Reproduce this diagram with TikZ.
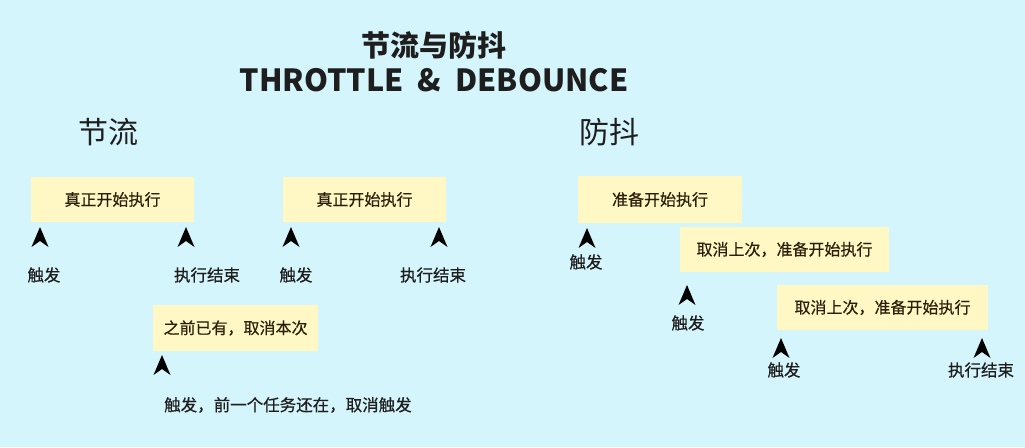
\documentclass[tikz,border=0pt]{standalone}
\usepackage{fontspec}
\setmainfont{Noto Sans CJK SC}
\newfontfamily\medfont{Noto Sans CJK SC}[FakeBold=0.5]
\definecolor{bgc}{RGB}{213,245,252}
\definecolor{boxc}{RGB}{255,248,196}
\definecolor{txtc}{RGB}{30,30,30}
\definecolor{boxtxt}{RGB}{45,30,10}
\begin{document}
\begin{tikzpicture}[x=1pt,y=-1pt,
  ybox/.style={fill=boxc,draw=none,inner sep=0pt,text=boxtxt,font=\medfont\fontsize{16}{18}\selectfont},
  lbl/.style={inner sep=0pt,text=txtc,font=\medfont\fontsize{16.5}{18}\selectfont},
  heading/.style={inner sep=0pt,text=txtc,font=\fontsize{30}{34}\selectfont},
  arrowhd/.pic={\fill[black] (0,0) -- (-8.5,20) -- (0,14) -- (8.5,20) -- cycle;}]
\fill[bgc] (0,0) rectangle (1025,447);
\useasboundingbox (0,0) rectangle (1025,447);
% titles
\node[heading,font=\fontsize{29}{32}\selectfont\bfseries] (title) at (434,45) {节流与防抖};
\node[heading,font=\fontsize{30.5}{34}\selectfont\bfseries] (subtitle) at (434,80) {THROTTLE\hspace{14pt}\&\hspace{14pt}DEBOUNCE};
\node[heading] (thr) at (108,132) {节流};
\node[heading] (deb) at (609,132) {防抖};
% throttle
\node[ybox,minimum width=163,minimum height=45] (t1) at (112.5,199.5) {真正开始执行};
\node[ybox,minimum width=163,minimum height=45] (t2) at (364.5,199.5) {真正开始执行};
\node[ybox,minimum width=165,minimum height=46] (t3) at (235.5,328) {之前已有，取消本次};
\pic (ta1) at (40,227) {arrowhd};
\pic (ta2) at (186,227) {arrowhd};
\pic (ta3) at (291,227) {arrowhd};
\pic (ta4) at (439,227) {arrowhd};
\pic (ta5) at (162,355) {arrowhd};
\node[lbl] (tl1) at (44,275) {触发};
\node[lbl] (tl2) at (207,275) {执行结束};
\node[lbl] (tl3) at (296,275) {触发};
\node[lbl] (tl4) at (433,275) {执行结束};
\node[lbl,anchor=west] (tl5) at (164,405) {触发，前一个任务还在，取消触发};
% debounce
\node[ybox,minimum width=164,minimum height=47] (d1) at (660,199.5) {准备开始执行};
\node[ybox,minimum width=209,minimum height=45] (d2) at (784.5,249.5) {取消上次，准备开始执行};
\node[ybox,minimum width=211,minimum height=45] (d3) at (882.5,307.5) {取消上次，准备开始执行};
\pic (da1) at (587,228) {arrowhd};
\pic (da2) at (687,285) {arrowhd};
\pic (da3) at (781,338) {arrowhd};
\pic (da4) at (982,338) {arrowhd};
\node[lbl] (dl1) at (586,262) {触发};
\node[lbl] (dl2) at (688,323) {触发};
\node[lbl] (dl3) at (784,370) {触发};
\node[lbl] (dl4) at (981,370) {执行结束};
\end{tikzpicture}
\end{document}
